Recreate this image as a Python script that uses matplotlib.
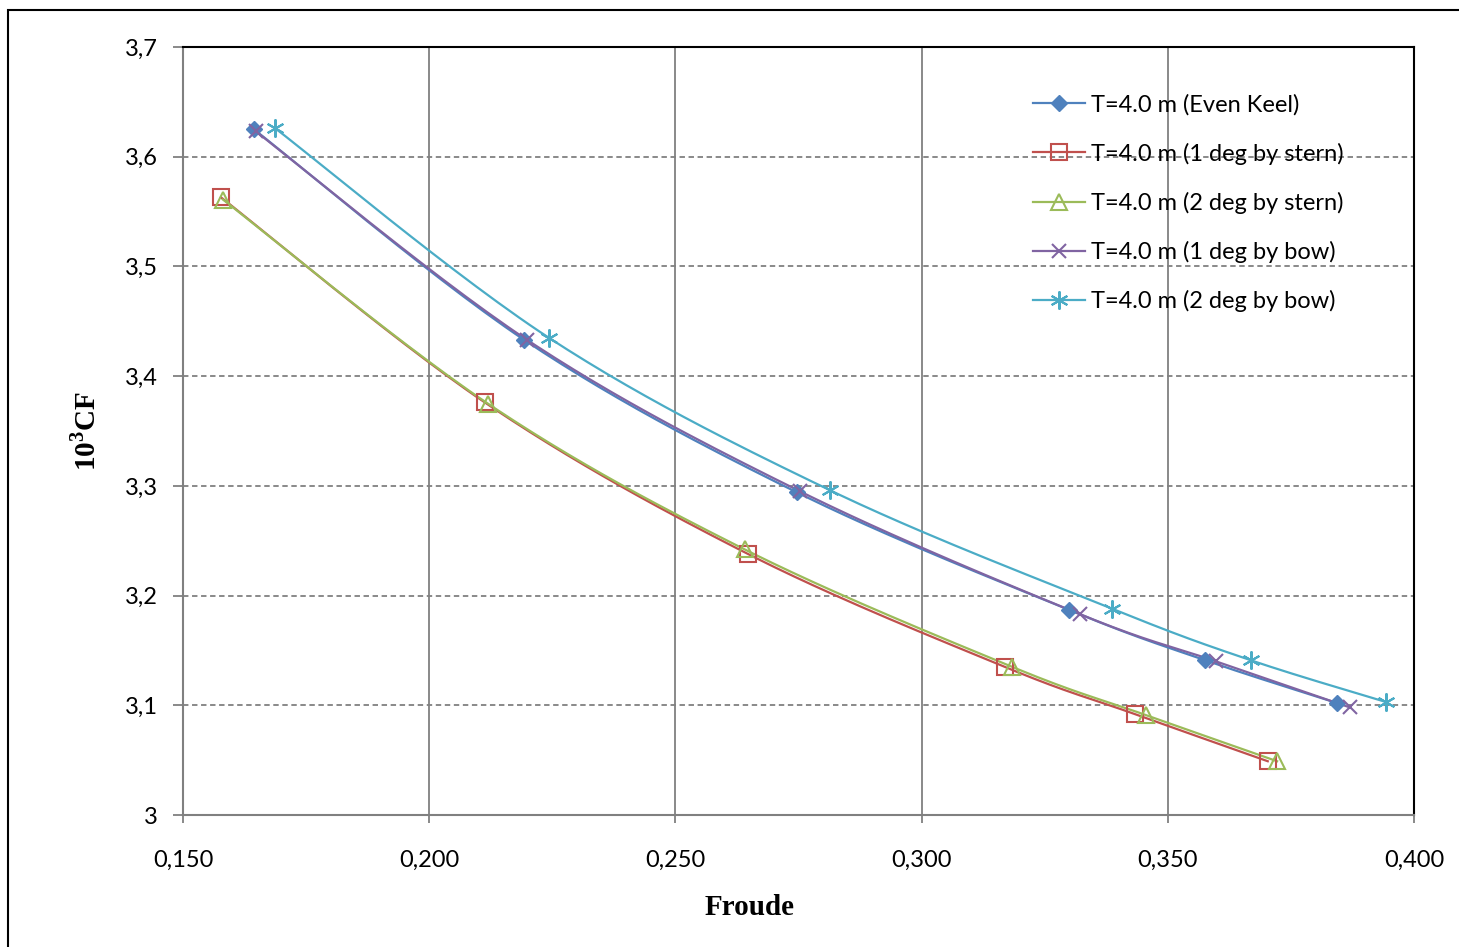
import matplotlib.pyplot as plt
import numpy as np
from matplotlib.lines import Line2D
from matplotlib.patches import Rectangle
from matplotlib.ticker import FuncFormatter, MultipleLocator

# Froude number and 10^3 CF for each trim condition
fr_even = [0.1644, 0.2193, 0.2747, 0.3299, 0.3576, 0.3844]
cf_even = [3.625, 3.433, 3.294, 3.187, 3.141, 3.102]

fr_stern1 = [0.1577, 0.2113, 0.2647, 0.3169, 0.3433, 0.3703]
cf_stern1 = [3.563, 3.376, 3.238, 3.135, 3.092, 3.049]

fr_stern2 = [0.1581, 0.2119, 0.2641, 0.3184, 0.3456, 0.3722]
cf_stern2 = [3.561, 3.375, 3.242, 3.135, 3.091, 3.049]

fr_bow1 = [0.1648, 0.2199, 0.2753, 0.3322, 0.3598, 0.3870]
cf_bow1 = [3.623, 3.433, 3.295, 3.183, 3.140, 3.098]

fr_bow2 = [0.1687, 0.2243, 0.2814, 0.3387, 0.3669, 0.3943]
cf_bow2 = [3.626, 3.435, 3.296, 3.188, 3.141, 3.103]

labels = ['T=4.0 m (Even Keel)', 'T=4.0 m (1 deg by stern)', 'T=4.0 m (2 deg by stern)',
          'T=4.0 m (1 deg by bow)', 'T=4.0 m (2 deg by bow)']

plt.rcParams['mathtext.fontset'] = 'custom'
plt.rcParams['mathtext.bf'] = 'Liberation Serif:bold'
plt.rcParams['mathtext.rm'] = 'Liberation Serif'


def smooth(xs, ys, n=30):
    # Excel-like smoothed line: cubic Bezier segments through the points
    p = np.column_stack([xs, ys])
    pts = np.vstack([p[0], p, p[-1]])
    out = []
    t = np.linspace(0, 1, n)[:, None]
    for i in range(1, len(pts) - 2):
        p0, p1 = pts[i], pts[i + 1]
        c1 = p0 + (pts[i + 1] - pts[i - 1]) / 6
        c2 = p1 - (pts[i + 2] - pts[i]) / 6
        seg = (1 - t) ** 3 * p0 + 3 * (1 - t) ** 2 * t * c1 + 3 * (1 - t) * t ** 2 * c2 + t ** 3 * p1
        out.append(seg)
    out = np.vstack(out)
    return out[:, 0], out[:, 1]


fig = plt.figure(figsize=(14.59, 9.47), dpi=100)
ax = fig.add_axes([183 / 1459, 132 / 947, 1231 / 1459, 768 / 947])

# outer chart frame
fig.patches.append(Rectangle((8 / 1459, -0.05), 1.1, 1 - 10 / 947 + 0.05, transform=fig.transFigure,
                             fill=False, edgecolor='black', linewidth=1.5))

series = [
    (fr_even, cf_even, '#4F81BD', dict(marker='D', markersize=8, markerfacecolor='#4F81BD')),
    (fr_stern1, cf_stern1, '#C0504D', dict(marker='s', markersize=11, markerfacecolor='none', markeredgewidth=1.5)),
    (fr_stern2, cf_stern2, '#9BBB59', dict(marker='^', markersize=11, markerfacecolor='none', markeredgewidth=1.5)),
    (fr_bow1, cf_bow1, '#8064A2', dict(marker='x', markersize=10, markeredgewidth=1.5)),
    (fr_bow2, cf_bow2, '#4BACC6', dict(marker=(6, 2, 0), markersize=13, markeredgewidth=1.5)),
]

handles = []
for xs, ys, col, mk in series:
    sx, sy = smooth(xs, ys)
    ax.plot(sx, sy, color=col, lw=1.6, zorder=3)
    ax.plot(xs, ys, linestyle='none', color=col, markeredgecolor=col, zorder=4, **mk)
    handles.append(Line2D([], [], color=col, lw=1.6, markeredgecolor=col, **mk))

ax.set_xlim(0.15, 0.40)
ax.set_ylim(3.0, 3.7)
ax.xaxis.set_major_locator(MultipleLocator(0.05))
ax.yaxis.set_major_locator(MultipleLocator(0.1))
ax.xaxis.set_major_formatter(FuncFormatter(lambda v, p: f'{v:.3f}'.replace('.', ',')))
ax.yaxis.set_major_formatter(FuncFormatter(lambda v, p: f'{round(v, 1):g}'.replace('.', ',')))

ax.grid(axis='x', color='#808080', linestyle='-', linewidth=1.3)
ax.grid(axis='y', color='#808080', linestyle=(0, (3, 2)), linewidth=1.3)
ax.set_axisbelow(True)

for s in ['left', 'bottom']:
    ax.spines[s].set_color('#808080')
    ax.spines[s].set_linewidth(1.5)
for s in ['top', 'right']:
    ax.spines[s].set_color('black')
    ax.spines[s].set_linewidth(1.5)

ax.tick_params(axis='both', color='#808080', width=1.3, labelsize=17, labelcolor='black')
ax.tick_params(axis='x', length=6, pad=19)
ax.tick_params(axis='y', length=7, pad=11)
for lab in ax.get_xticklabels() + ax.get_yticklabels():
    lab.set_fontfamily(['Lato', 'DejaVu Sans'])

ax.set_xlabel('Froude', fontfamily='Liberation Serif', fontweight='bold', fontsize=21)
ax.set_ylabel('10$^{\\mathbf{3}}$CF', fontfamily='Liberation Serif', fontweight='bold', fontsize=21)
ax.xaxis.set_label_coords(0.4606, -0.103)
ax.yaxis.set_label_coords(-0.066, 0.5)

leg = ax.legend(handles, labels, loc='upper left', bbox_to_anchor=(0.6905, 0.939), frameon=False,
                handlelength=2.2, handletextpad=0.25, labelspacing=1.15,
                borderaxespad=0, borderpad=0, prop={'family': ['Lato', 'DejaVu Sans'], 'size': 17})

fig.savefig('out.png', dpi=100)
